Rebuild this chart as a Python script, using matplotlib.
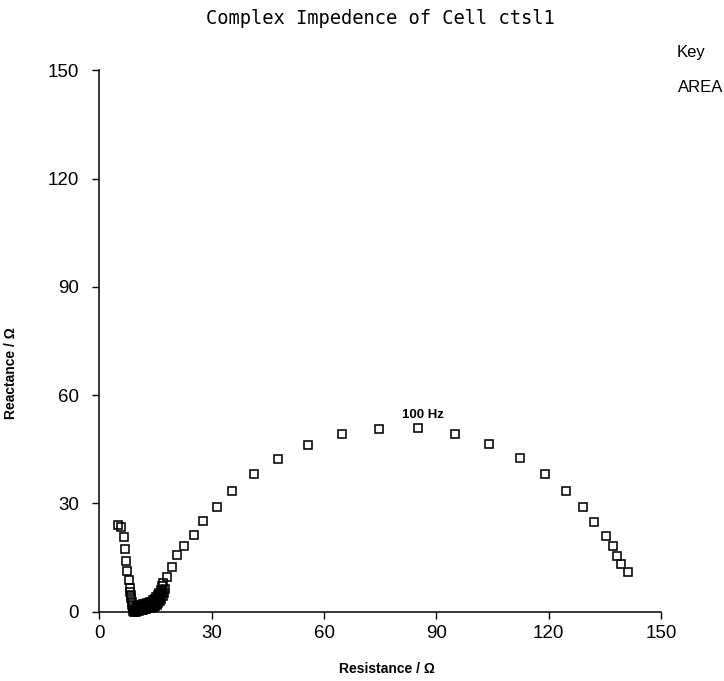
import matplotlib
matplotlib.use("Agg")
import matplotlib.pyplot as plt

plt.rcParams['font.family'] = ['Liberation Sans', 'DejaVu Sans']

# high frequency tail (left branch)
tail_r = [5.0, 5.7, 6.6, 6.9, 7.1, 7.5, 7.8, 8.1, 8.2, 8.4, 8.5, 8.6, 8.8, 8.9, 9.1]
tail_x = [24.0, 23.5, 20.8, 17.4, 14.1, 11.4, 8.8, 6.5, 5.5, 4.6, 3.7, 2.8, 1.9, 1.1, 0.3]

# small arc (dense blob near origin), rows of readings
low_r = [9.3, 9.7, 10.1, 10.5, 10.9, 11.3, 11.7, 12.1, 12.5, 12.9, 13.3, 13.7,
         14.1, 14.5, 14.9, 15.3, 15.7, 16.1, 16.5, 16.9, 17.2, 17.5]
low_x = [-0.2, 0.0, 0.2, 0.3, 0.4, 0.5, 0.6, 0.7, 0.8, 0.9, 1.0, 1.1,
         1.2, 1.3, 1.5, 1.8, 2.3, 2.9, 3.6, 4.4, 5.3, 6.3]
mid_r = [9.5, 9.9, 10.3, 10.7, 11.1, 11.5, 11.9, 12.3, 12.7, 13.1, 13.5, 13.9,
         14.3, 14.7, 15.1, 15.5, 15.9, 16.3, 16.7]
mid_x = [0.2, 0.6, 0.8, 1.0, 1.1, 1.2, 1.4, 1.5, 1.6, 1.7, 1.8, 1.9,
         2.1, 2.4, 2.8, 3.3, 3.9, 4.7, 5.6]
up_r = [9.6, 10.0, 10.4, 10.8, 11.2, 11.6, 12.0, 12.4, 12.8, 13.2, 13.6, 14.0,
        14.4, 14.8, 15.2, 15.6, 16.0, 16.4, 16.8]
up_x = [0.6, 1.2, 1.5, 1.7, 1.9, 2.0, 2.1, 2.2, 2.3, 2.4, 2.6, 2.8,
        3.1, 3.5, 4.0, 4.6, 5.3, 6.1, 7.0]

# main arc
arc_r = [17.1, 18.0, 19.3, 20.6, 22.6, 25.3, 27.8, 31.3, 35.5, 41.2, 47.6, 55.6,
         64.7, 74.7, 85.0, 95.0, 104.1, 112.3, 119.0, 124.5, 129.2, 132.1,
         135.3, 137.3, 138.2, 139.2, 141.1]
arc_x = [7.9, 9.7, 12.5, 15.6, 18.3, 21.3, 25.0, 29.1, 33.5, 38.1, 42.3, 46.2,
         49.1, 50.6, 50.8, 49.3, 46.4, 42.5, 38.1, 33.5, 29.0, 24.9,
         20.9, 18.1, 15.4, 13.2, 11.1]

resistance = tail_r + low_r + mid_r + up_r + arc_r
reactance = tail_x + low_x + mid_x + up_x + arc_x

ticks = [0, 30, 60, 90, 120, 150]

fig = plt.figure(figsize=(7.24, 6.81), dpi=100)
ax = fig.add_axes([0.1373, 0.1018, 0.7757, 0.7951])

ax.plot(resistance, reactance, linestyle='none', marker='s', markersize=6,
        markerfacecolor='none', markeredgecolor='black', markeredgewidth=1.15,
        clip_on=False)

ax.text(86.4, 54.5, '100 Hz', fontsize=9.5, fontweight='bold',
        ha='center', va='center')

ax.set_xlim(0, 150)
ax.set_ylim(0, 150)
ax.set_xticks(ticks)
ax.set_yticks(ticks)
ax.tick_params(direction='out', length=4.8, width=1, labelsize=13.5, color='black')
ax.tick_params(axis='y', pad=10)
ax.tick_params(axis='x', pad=5)
for s in ['top', 'right']:
    ax.spines[s].set_visible(False)
for s in ['left', 'bottom']:
    ax.spines[s].set_linewidth(1.1)

ax.set_xlabel('Resistance / Ω', fontsize=10, fontweight='bold', va='center', ha='center')
ax.set_ylabel('Reactance / Ω', fontsize=10, fontweight='bold', va='center', ha='center')
ax.xaxis.set_label_coords(0.512, -0.106)
ax.yaxis.set_label_coords(-0.157, 0.441)

fig.text(0.525, 0.973, 'Complex Impedence of Cell ctsl1', family='DejaVu Sans Mono',
         fontsize=13.5, ha='center', va='center')
fig.text(0.935, 0.9236, 'Key', fontsize=12, ha='left', va='center')
fig.text(0.936, 0.8715, 'AREA', fontsize=12, ha='left', va='center')

fig.savefig('out.png', dpi=100)
